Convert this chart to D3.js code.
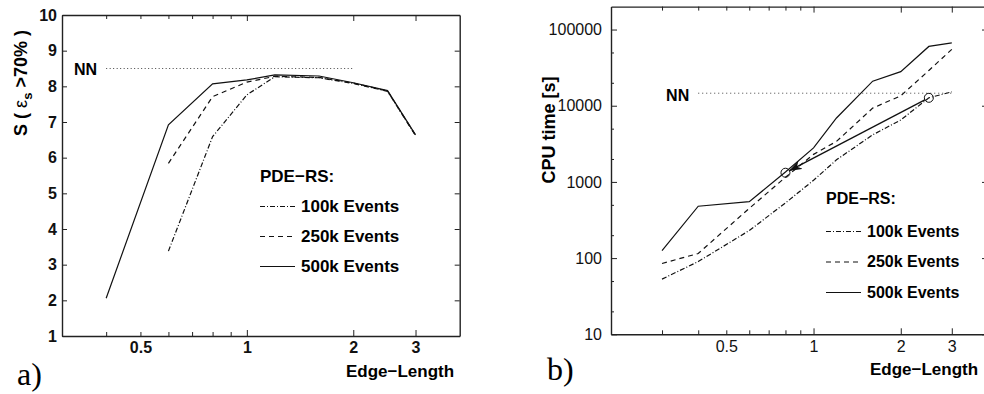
<!DOCTYPE html>
<html>
<head>
<meta charset="utf-8">
<script src="https://cdn.jsdelivr.net/npm/d3@7"></script>
<style>
  body { margin: 0; background: #fff; }
  svg { display: block; }
</style>
</head>
<body>
<script>
// a) signal vs. edge length
var edgeA = [0.4, 0.6, 0.8, 1.0, 1.2, 1.6, 2.0, 2.5, 3.0];
var sig100k = [null, 3.38, 6.59, 7.76, 8.27, 8.24, 8.08, 7.86, 6.62];
var sig250k = [null, 5.84, 7.71, 8.12, 8.28, 8.25, 8.09, 7.87, 6.63];
var sig500k = [2.06, 6.92, 8.07, 8.18, 8.32, 8.29, 8.10, 7.88, 6.64];
var nnSig = 8.5, nnSigFrom = 0.4, nnSigTo = 2.0;

// b) cpu time vs. edge length
var edgeB = [0.3, 0.4, 0.6, 0.8, 1.0, 1.2, 1.6, 2.0, 2.5, 3.0];
var cpu100k = [53, 90, 230, 530, 1050, 1950, 4150, 6500, 12700, 15200];
var cpu250k = [85, 115, 450, 1150, 2300, 3400, 9300, 13500, 29000, 55000];
var cpu500k = [125, 480, 550, 1350, 2800, 6900, 21000, 28000, 60000, 67000];
var nnCpu = 14600, nnCpuFrom = 0.4, nnCpuTo = 3.0;
var arrowFrom = [2.5, 12700], arrowTo = [0.8, 1320];

var seriesNames = ["100k Events", "250k Events", "500k Events"];
var dashes = ["5,2,1,2", "5,4", null];

var xTicksA = [0.4, 0.5, 0.6, 0.7, 0.8, 0.9, 1, 2, 3];
var xTicksB = [0.3, 0.4, 0.5, 0.6, 0.7, 0.8, 0.9, 1, 2, 3];
var xLabels = [0.5, 1, 2, 3];
var yTicksA = [1, 2, 3, 4, 5, 6, 7, 8, 9, 10];
var yMajorB = [10, 100, 1000, 10000, 100000];
var yTicksB = [10, 20, 50, 100, 200, 500, 1000, 2000, 5000, 10000, 20000, 50000, 100000];

var FONT = "Liberation Sans, Arial, Helvetica, sans-serif";

var svg = d3.select("body").append("svg")
    .attr("width", 984)
    .attr("height", 394);

svg.append("defs").append("marker")
    .attr("id", "head")
    .attr("markerUnits", "userSpaceOnUse")
    .attr("markerWidth", 16).attr("markerHeight", 12)
    .attr("refX", 13).attr("refY", 5)
    .attr("orient", "auto")
    .append("path")
    .attr("d", "M0,0.5 L13,5 L0,9.5 L4,5 Z")
    .attr("fill", "#111");

var xA = d3.scaleLog().domain([0.3, 4]).range([62, 459.7]);
var yA = d3.scaleLinear().domain([1, 10]).range([336, 15]);
var xB = d3.scaleLog().domain([0.2, 4]).range([611, 988]);
var yB = d3.scaleLog().domain([10, 200000]).range([334.3, 6.6]);

function styleAxis(g) {
    g.select(".domain").attr("stroke", "#222").attr("stroke-width", 1.4);
    g.selectAll(".tick line").attr("stroke", "#222").attr("stroke-width", 1);
    g.selectAll(".tick text").attr("fill", "#111");
}

function box(xs, ys, xt, yt, labelWeight, labelSize, yPad, isLog) {
    var x0 = xs.range()[0], x1 = xs.range()[1];
    var y0 = ys.range()[0], y1 = ys.range()[1];

    // bottom
    var gb = svg.append("g")
        .attr("transform", "translate(0," + y0 + ")")
        .call(d3.axisBottom(xs).tickValues(xt).tickSizeInner(-4).tickSizeOuter(0).tickPadding(6)
            .tickFormat(function (d) { return xLabels.indexOf(d) >= 0 ? d : ""; }));
    gb.selectAll(".tick line").attr("y2", function (d) { return d >= 1 ? -6 : -4; });
    gb.selectAll(".tick text")
        .style("font-family", FONT).style("font-size", labelSize + "px").style("font-weight", labelWeight);
    styleAxis(gb);

    // top
    var gt = svg.append("g")
        .attr("transform", "translate(0," + y1 + ")")
        .call(d3.axisTop(xs).tickValues(xt).tickSizeInner(-4).tickSizeOuter(0).tickFormat(""));
    gt.selectAll(".tick line").attr("y2", function (d) { return d >= 1 ? 6 : 4; });
    styleAxis(gt);

    // left
    var gl = svg.append("g")
        .attr("transform", "translate(" + x0 + ",0)")
        .call(d3.axisLeft(ys).tickValues(yt).tickSizeInner(-5).tickSizeOuter(0).tickPadding(yPad)
            .tickFormat(function (d) { return (!isLog || yMajorB.indexOf(d) >= 0) ? d : ""; }));
    if (isLog) gl.selectAll(".tick line").attr("x2", function (d) { return yMajorB.indexOf(d) >= 0 ? 6 : 3; });
    gl.selectAll(".tick text")
        .style("font-family", FONT).style("font-size", labelSize + "px").style("font-weight", labelWeight);
    styleAxis(gl);

    // right
    var gr = svg.append("g")
        .attr("transform", "translate(" + x1 + ",0)")
        .call(d3.axisRight(ys).tickValues(yt).tickSizeInner(-5).tickSizeOuter(0).tickFormat(""));
    if (isLog) gr.selectAll(".tick line").attr("x2", function (d) { return yMajorB.indexOf(d) >= 0 ? -6 : -3; });
    styleAxis(gr);
}

box(xA, yA, xTicksA, yTicksA, "bold", 16, 5, false);
box(xB, yB, xTicksB, yTicksB, "normal", 16, 9, true);

function drawLines(xs, ys, xv, series) {
    var line = d3.line()
        .defined(function (d) { return d[1] != null; })
        .x(function (d) { return xs(d[0]); })
        .y(function (d) { return ys(d[1]); });
    series.forEach(function (vals, i) {
        svg.append("path")
            .datum(xv.map(function (x, j) { return [x, vals[j]]; }))
            .attr("d", line)
            .attr("fill", "none")
            .attr("stroke", "#111")
            .attr("stroke-width", 1.2)
            .attr("stroke-dasharray", dashes[i]);
    });
}

function legend(x, yTitle, rows, size) {
    svg.append("text")
        .attr("x", x).attr("y", yTitle)
        .style("font-family", FONT).style("font-size", size + "px").style("font-weight", "bold")
        .text("PDE\u2212RS:");
    rows.forEach(function (y, i) {
        svg.append("line")
            .attr("x1", x).attr("x2", x + 35)
            .attr("y1", y - 5).attr("y2", y - 5)
            .attr("stroke", "#111").attr("stroke-width", 1.2)
            .attr("stroke-dasharray", dashes[i]);
        svg.append("text")
            .attr("x", x + 41).attr("y", y)
            .style("font-family", FONT).style("font-size", size + "px").style("font-weight", "bold")
            .text(seriesNames[i]);
    });
}

// ---------- panel a ----------
drawLines(xA, yA, edgeA, [sig100k, sig250k, sig500k]);

svg.append("line")
    .attr("x1", xA(nnSigFrom)).attr("x2", xA(nnSigTo))
    .attr("y1", yA(nnSig)).attr("y2", yA(nnSig))
    .attr("stroke", "#444").attr("stroke-width", 1)
    .attr("stroke-dasharray", "1,2.5");
svg.append("text")
    .attr("x", xA(nnSigFrom) - 9).attr("y", yA(nnSig) + 6)
    .attr("text-anchor", "end")
    .style("font-family", FONT).style("font-size", "16px").style("font-weight", "bold")
    .text("NN");

legend(260, 182, [211.5, 241.5, 271.5], 17);

var ylabA = svg.append("text")
    .attr("transform", "translate(27,83)rotate(-90)")
    .attr("text-anchor", "middle")
    .style("font-family", FONT).style("font-size", "18px").style("font-weight", "bold");
ylabA.append("tspan").text("S ( ");
ylabA.append("tspan").style("font-weight", "normal").text("\u03b5");
ylabA.append("tspan").attr("dy", 5).style("font-size", "13px").text("s");
ylabA.append("tspan").attr("dy", -5).text(" >70% )");

svg.append("text")
    .attr("x", 346).attr("y", 377)
    .style("font-family", FONT).style("font-size", "17px").style("font-weight", "bold")
    .text("Edge\u2212Length");

svg.append("text")
    .attr("x", 17).attr("y", 385)
    .style("font-family", "Liberation Serif, DejaVu Serif, serif").style("font-size", "32px")
    .text("a)");

// ---------- panel b ----------
drawLines(xB, yB, edgeB, [cpu100k, cpu250k, cpu500k]);

svg.append("line")
    .attr("x1", xB(nnCpuFrom)).attr("x2", xB(nnCpuTo))
    .attr("y1", yB(nnCpu)).attr("y2", yB(nnCpu))
    .attr("stroke", "#444").attr("stroke-width", 1)
    .attr("stroke-dasharray", "1,3");
svg.append("text")
    .attr("x", xB(nnCpuFrom) - 9).attr("y", yB(nnCpu) + 8)
    .attr("text-anchor", "end")
    .style("font-family", FONT).style("font-size", "16px").style("font-weight", "bold")
    .text("NN");

// arrow between the two circled working points
var ax0 = xB(arrowFrom[0]), ay0 = yB(arrowFrom[1]);
var ax1 = xB(arrowTo[0]), ay1 = yB(arrowTo[1]);
var len = Math.hypot(ax1 - ax0, ay1 - ay0);
svg.append("line")
    .attr("x1", ax0 - (ax0 - ax1) * 4 / len).attr("y1", ay0 - (ay0 - ay1) * 4 / len)
    .attr("x2", ax1 + (ax0 - ax1) * 4 / len).attr("y2", ay1 + (ay0 - ay1) * 4 / len)
    .attr("stroke", "#111").attr("stroke-width", 1.3)
    .attr("marker-end", "url(#head)");
[arrowFrom, arrowTo].forEach(function (p) {
    svg.append("circle")
        .attr("cx", xB(p[0])).attr("cy", yB(p[1])).attr("r", 4.5)
        .attr("fill", "none").attr("stroke", "#111").attr("stroke-width", 1);
});

legend(826, 204, [236.5, 267, 297.5], 16);

svg.append("text")
    .attr("transform", "translate(555,130)rotate(-90)")
    .attr("text-anchor", "middle")
    .style("font-family", FONT).style("font-size", "18px").style("font-weight", "bold")
    .text("CPU time [s]");

svg.append("text")
    .attr("x", 870).attr("y", 375)
    .style("font-family", FONT).style("font-size", "17px").style("font-weight", "bold")
    .text("Edge\u2212Length");

svg.append("text")
    .attr("x", 547).attr("y", 380)
    .style("font-family", "Liberation Serif, DejaVu Serif, serif").style("font-size", "32px")
    .text("b)");
</script>
</body>
</html>
